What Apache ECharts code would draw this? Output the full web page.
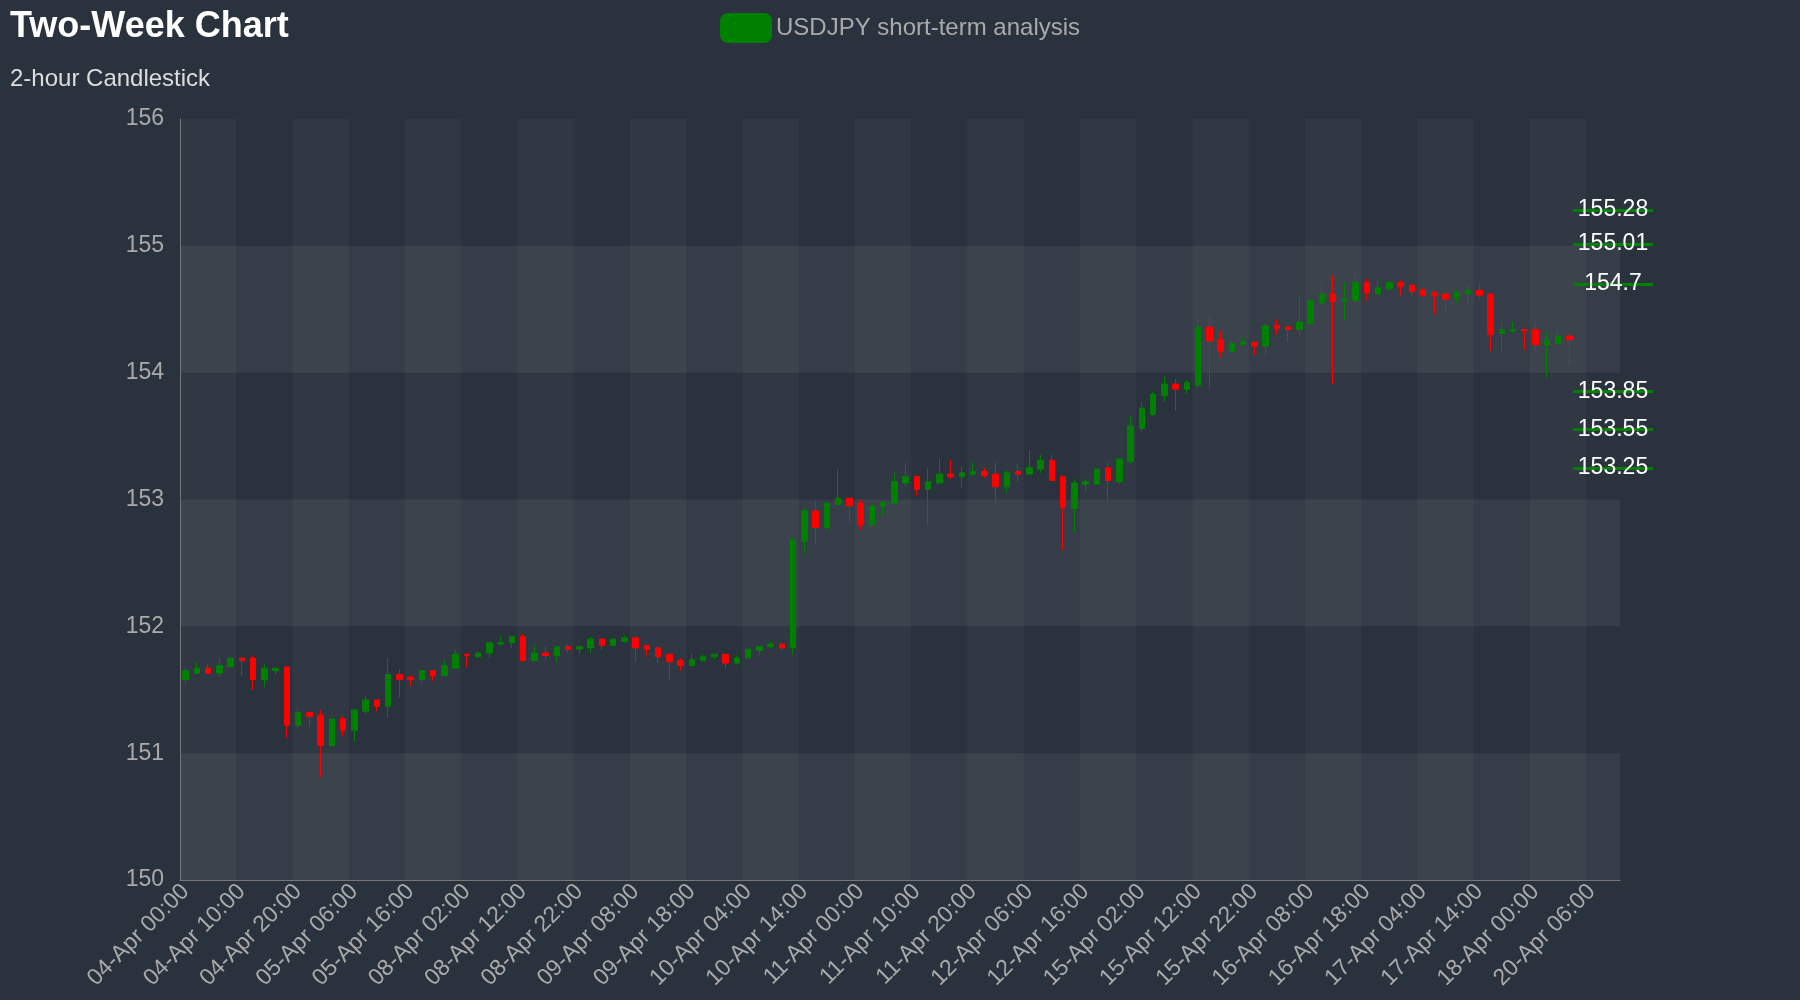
<!DOCTYPE html>
<html><head><meta charset="utf-8">
<script src="https://cdn.jsdelivr.net/npm/echarts@6/dist/echarts.min.js"></script>
<style>html,body{margin:0;padding:0;background:#29323d}#c{width:1800px;height:1000px}</style>
</head><body><div id="c"></div>
<script>
// OHLC: [open, close, low, high]
const opens  = [151.58,151.63,151.67,151.63,151.68,151.75,151.75,151.58,151.65,151.68,151.22,151.32,151.30,151.06,151.27,151.18,151.33,151.42,151.37,151.62,151.60,151.58,151.65,151.61,151.67,151.78,151.76,151.79,151.86,151.87,151.92,151.73,
151.79,151.77,151.84,151.82,151.83,151.90,151.85,151.88,151.91,151.85,151.83,151.78,151.73,151.69,151.73,151.76,151.78,151.71,151.75,151.81,151.84,151.86,151.83,152.67,152.91,152.78,152.96,153.01,152.97,152.80,152.95,152.97,
153.13,153.18,153.08,153.13,153.20,153.18,153.20,153.22,153.20,153.10,153.22,153.20,153.24,153.31,153.18,152.93,153.12,153.12,153.25,153.14,153.30,153.56,153.67,153.82,153.91,153.87,153.90,154.36,154.26,154.17,154.22,154.24,
154.21,154.37,154.36,154.34,154.39,154.55,154.62,154.57,154.57,154.71,154.62,154.66,154.71,154.69,154.65,154.63,154.62,154.59,154.62,154.65,154.62,154.31,154.33,154.34,154.34,154.22,154.23,154.29];
const closes = [151.65,151.67,151.63,151.69,151.75,151.73,151.58,151.67,151.67,151.22,151.32,151.29,151.06,151.27,151.18,151.34,151.42,151.37,151.62,151.58,151.58,151.65,151.61,151.69,151.78,151.77,151.79,151.87,151.87,151.92,151.73,151.79,
151.77,151.84,151.82,151.84,151.90,151.85,151.90,151.91,151.83,151.82,151.76,151.72,151.69,151.74,151.76,151.78,151.71,151.75,151.82,151.84,151.86,151.83,152.68,152.91,152.78,152.97,153.01,152.95,152.80,152.95,152.98,153.14,
153.18,153.08,153.14,153.20,153.18,153.21,153.22,153.19,153.10,153.21,153.20,153.25,153.31,153.15,152.94,153.13,153.14,153.24,153.15,153.32,153.58,153.72,153.83,153.91,153.87,153.92,154.36,154.25,154.17,154.23,154.24,154.21,
154.37,154.35,154.34,154.40,154.57,154.62,154.56,154.58,154.71,154.63,154.67,154.71,154.68,154.64,154.61,154.61,154.58,154.63,154.65,154.61,154.30,154.34,154.34,154.33,154.22,154.25,154.29,154.26];
const lows   = [151.54,151.63,151.63,151.60,151.68,151.61,151.50,151.52,151.62,151.12,151.19,151.21,150.81,151.06,151.13,151.09,151.31,151.33,151.28,151.44,151.53,151.54,151.57,151.61,151.67,151.68,151.75,151.75,151.85,151.83,151.72,151.73,
151.74,151.72,151.79,151.78,151.79,151.81,151.85,151.87,151.72,151.76,151.71,151.57,151.65,151.69,151.72,151.74,151.67,151.70,151.75,151.77,151.83,151.81,151.78,152.58,152.65,152.76,152.95,152.82,152.76,152.79,152.87,152.97,
153.10,153.03,152.80,153.13,153.16,153.09,153.19,153.17,152.97,153.05,153.14,153.20,153.21,153.15,152.60,152.74,153.06,153.12,152.98,153.12,153.28,153.53,153.66,153.77,153.70,153.83,153.88,153.87,154.12,154.16,154.22,154.14,
154.13,154.30,154.24,154.29,154.38,154.53,153.91,154.41,154.54,154.57,154.62,154.65,154.61,154.60,154.60,154.46,154.47,154.55,154.53,154.58,154.17,154.16,154.31,154.18,154.17,153.96,154.23,154.06];
const highs  = [151.68,151.72,151.70,151.75,151.75,151.75,151.77,151.70,151.67,151.68,151.35,151.32,151.34,151.27,151.29,151.35,151.45,151.42,151.75,151.66,151.61,151.65,151.65,151.73,151.81,151.78,151.80,151.87,151.92,151.92,151.94,151.85,
151.84,151.84,151.86,151.85,151.92,151.90,151.90,151.93,151.91,151.85,151.84,151.78,151.75,151.79,151.78,151.78,151.78,151.77,151.82,151.84,151.88,151.86,152.70,152.94,152.99,152.98,153.24,153.01,153.00,152.95,152.98,153.21,
153.29,153.19,153.25,153.32,153.31,153.26,153.29,153.25,153.30,153.23,153.28,153.39,153.35,153.35,153.19,153.16,153.16,153.24,153.30,153.32,153.66,153.77,153.85,153.97,153.95,153.94,154.42,154.44,154.33,154.25,154.28,154.24,
154.39,154.42,154.36,154.61,154.57,154.71,154.77,154.71,154.78,154.74,154.73,154.72,154.73,154.69,154.67,154.64,154.64,154.65,154.70,154.71,154.62,154.40,154.40,154.34,154.40,154.32,154.35,154.31];
const levels = [155.28, 155.01, 154.7, 153.85, 153.55, 153.25];
const yTicks = [150, 151, 152, 153, 154, 155, 156];
const dayOrder = ['04-Apr','05-Apr','08-Apr','09-Apr','10-Apr','11-Apr','12-Apr','15-Apr','16-Apr','17-Apr','18-Apr'];
const extraCats = ['18-Apr 02:00','18-Apr 04:00','18-Apr 06:00','18-Apr 08:00','20-Apr 06:00','20-Apr 08:00','20-Apr 10:00'];

const categories = [];
for (const d of dayOrder) {
  for (let h = 0; h < 24; h += 2) {
    if (categories.length <= 120) categories.push(d + ' ' + String(h).padStart(2,'0') + ':00');
  }
}
categories.length = 121;
categories.push(...extraCats);

const ohlc = opens.map((o, i) => [o, closes[i], lows[i], highs[i]]);

const chart = echarts.init(document.getElementById('c'));
chart.setOption({
  backgroundColor: '#29323d',
  animation: false,
  title: {
    text: 'Two-Week Chart', subtext: '2-hour Candlestick', left: 5, top: 4,
    textStyle: { color: '#ffffff', fontSize: 36, fontWeight: 'bold', fontFamily: 'Liberation Sans' },
    subtextStyle: { color: '#dddddd', fontSize: 24, fontFamily: 'Liberation Sans' },
    itemGap: 22
  },
  legend: {
    top: 8, left: 'center', itemWidth: 50, itemHeight: 28, itemGap: 10,
    textStyle: { color: '#aaaaaa', fontSize: 24, fontFamily: 'Liberation Sans' },
    data: ['USDJPY short-term analysis']
  },
  grid: { left: 180, right: 180, top: 119, bottom: 120 },
  xAxis: {
    type: 'category', data: categories, boundaryGap: true,
    axisLine: { lineStyle: { color: '#777' } },
    axisTick: { show: false },
    axisLabel: { color: '#aaaaaa', fontSize: 23, rotate: 45, interval: 4, fontFamily: 'Liberation Sans' },
    splitLine: { show: false },
    splitArea: { show: true, interval: 4, areaStyle: { color: ['rgba(255,255,255,0.03)', 'rgba(255,255,255,0.0)'] } }
  },
  yAxis: {
    type: 'value', min: yTicks[0], max: yTicks[yTicks.length-1], interval: 1,
    axisLine: { show: true, lineStyle: { color: '#777' } },
    axisLabel: { color: '#aaaaaa', fontSize: 23, fontFamily: 'Liberation Sans', margin: 16 },
    splitLine: { show: false },
    splitArea: { show: true, areaStyle: { color: ['rgba(255,255,255,0.06)', 'rgba(255,255,255,0.0)'] } }
  },
  series: [{
    name: 'USDJPY short-term analysis', type: 'candlestick', data: ohlc,
    barWidth: '55%',
    itemStyle: { color: '#008000', color0: '#ff0000', borderColor: '#008000', borderColor0: '#ff0000', borderWidth: 1 },
    markLine: {
      symbol: 'none', silent: true,
      lineStyle: { color: '#008000', width: 3, type: 'solid' },
      label: { show: true, position: 'middle', color: '#ffffff', fontSize: 23, fontFamily: 'Liberation Sans', distance: -11 },
      data: levels.map(v => [{ yAxis: v, x: 1573 }, { yAxis: v, x: 1653, value: v }])
    }
  }]
});
</script></body></html>
